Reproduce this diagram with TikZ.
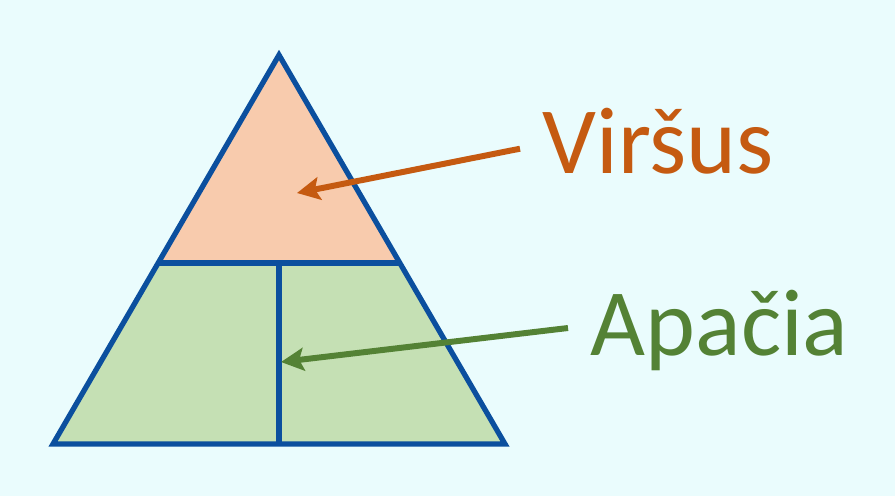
\documentclass[tikz,border=0pt]{standalone}
\usepackage{fontspec}
\setmainfont{Carlito}
\usetikzlibrary{arrows.meta, calc}
\definecolor{bgcyan}{HTML}{EAFCFD}
\definecolor{edgeblue}{HTML}{0B4F9E}
\definecolor{topfill}{HTML}{F8CBAD}
\definecolor{lowfill}{HTML}{C5E0B4}
\definecolor{toptext}{HTML}{C55A11}
\definecolor{lowtext}{HTML}{548235}

\begin{document}
\begin{tikzpicture}
  [
    x=0.01cm, y=-0.01cm,
    edge/.style={draw=edgeblue, line width=1.5pt, line join=miter},
    label/.style={anchor=base west, inner xsep=0.22cm, inner ysep=0pt,
      font=\fontsize{27}{32}\selectfont},
    pointer/.style={line width=1.7pt, -{Stealth[length=6.5pt, width=6.5pt, inset=1.3pt]}}
  ]
  \fill[bgcyan] (0,0) rectangle (895,496);
  \useasboundingbox (0,0) rectangle (895,496);
  % corners
  \coordinate (apex) at (279,55);
  \coordinate (bl) at (53,444);
  \coordinate (br) at (505,444);
  \coordinate (ml) at ($(apex)!0.535!(bl)$);
  \coordinate (mr) at ($(apex)!0.535!(br)$);
  \coordinate (mm) at (279,263);
  \coordinate (bm) at (279,444);
  % fills
  \fill[topfill] (apex) -- (ml) -- (mr) -- cycle;
  \fill[lowfill] (ml) -- (bl) -- (br) -- (mr) -- cycle;
  % outline
  \draw[edge] (apex) -- (bl) -- (br) -- cycle;
  \draw[edge] (ml) -- (mr);
  \draw[edge] (mm) -- (bm);
  % labels
  \node[label, text=toptext] (virsus) at (520,173) {Viršus};
  \node[label, text=lowtext] (apacia) at (568,355) {Apačia};
  \coordinate (toptip) at (297,193);
  \coordinate (lowtip) at (281,362);
  % pointers
  \draw[pointer, toptext] ([yshift=-0.08cm]virsus.west) -- (toptip);
  \draw[pointer, lowtext] ([yshift=0.02cm]apacia.west) -- (lowtip);
\end{tikzpicture}
\end{document}
